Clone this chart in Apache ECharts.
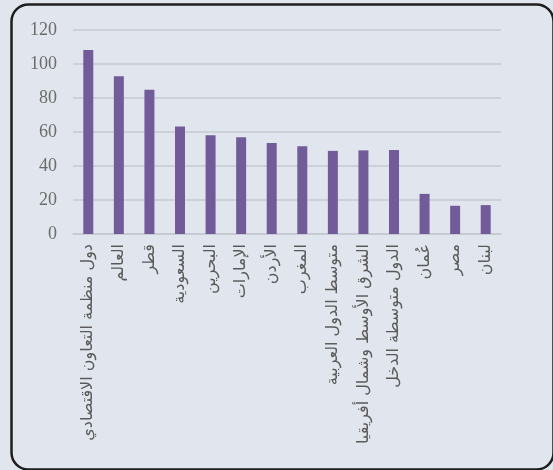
<!DOCTYPE html>
<html><head><meta charset="utf-8">
<script src="https://cdn.jsdelivr.net/npm/echarts@6/dist/echarts.min.js"></script>
<style>html,body{margin:0;padding:0;background:#e1e6ee;}#c{width:553px;height:470px;}</style>
</head><body><div id="c"></div>
<script>
const categories = ["دول منظمة التعاون الاقتصادي","العالم","قطر","السعودية","البحرين","الإمارات","الأردن","المغرب","متوسط الدول العربية","الشرق الأوسط وشمال أفريقيا","الدول متوسطة الدخل","عُمان","مصر","لبنان"];
const values = [108.3, 92.8, 84.8, 63.3, 58.1, 56.9, 53.5, 51.6, 48.9, 49.2, 49.4, 23.6, 16.6, 17.0];
const yTicks = [0, 20, 40, 60, 80, 100, 120];

const chart = echarts.init(document.getElementById('c'), null, {renderer: 'canvas'});
chart.setOption({
  backgroundColor: '#e1e6ee',
  animation: false,
  graphic: [{
    type: 'rect', left: 9, top: 2, z: 100,
    shape: {width: 542, height: 465, r: 17},
    style: {fill: 'none', stroke: '#1e1e1e', lineWidth: 2.5}
  }],
  grid: {left: 73, right: 52, top: 30, bottom: 236, containLabel: false},
  xAxis: {
    type: 'category', data: categories,
    axisLine: {show: true, lineStyle: {color: '#c4c8d0', width: 1.5}},
    axisTick: {show: false},
    axisLabel: {rotate: 90, interval: 0, color: '#5a5a5a', fontSize: 16,
      fontFamily: '"DejaVu Sans"', margin: 10}
  },
  yAxis: {
    type: 'value', min: yTicks[0], max: yTicks[yTicks.length - 1], interval: 20,
    axisLine: {show: false}, axisTick: {show: false},
    splitLine: {lineStyle: {color: '#c4c8d0', width: 1.5}},
    axisLabel: {color: '#6b6b6b', fontSize: 18, fontFamily: '"Liberation Serif", "Times New Roman", serif', margin: 16}
  },
  series: [{
    type: 'bar', data: values, barWidth: 10,
    itemStyle: {color: '#725b99'}
  }]
});
</script></body></html>
